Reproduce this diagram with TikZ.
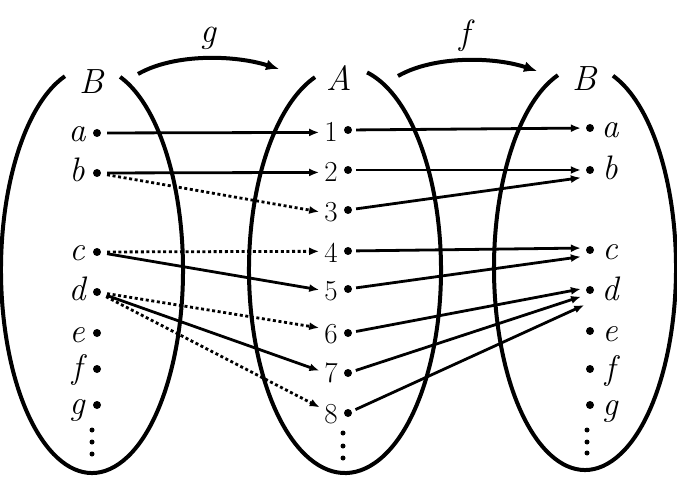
\documentclass[tikz,border=0pt]{standalone}
\usepackage{fontspec}
\usetikzlibrary{arrows.meta}
\begin{document}
\begin{tikzpicture}[x=1pt,y=-1pt,
 ell/.style={line width=4pt},
 pt/.style={circle,fill=black,inner sep=0pt,minimum size=8pt},
 vd/.style={circle,fill=black,inner sep=0pt,minimum size=5pt},
 lbl/.style={font=\fontsize{34}{36}\selectfont\itshape,inner sep=0pt,anchor=base},
 num/.style={font=\fontsize{29}{31}\selectfont,inner sep=0pt,anchor=base},
 setlbl/.style={font=\fontsize{35}{37}\selectfont\itshape,inner sep=0pt,anchor=base},
 gmap/.style={line width=2.8pt,-{Latex[length=10pt,width=8pt]},shorten <=6pt,shorten >=5pt},
 gmapd/.style={gmap,dash pattern=on 3pt off 2.6pt},
 fmap/.style={line width=2.8pt,-{Latex[length=10pt,width=8pt]},shorten <=4pt,shorten >=5pt},
 big/.style={line width=4pt,-{Latex[length=13pt,width=11pt]}}
]
\useasboundingbox (0,0) rectangle (677,494);

% open ellipses
\draw[ell] ([shift={(-107.3:91 and 203)}]92,270) arc[start angle=-107.3,end angle=-432,x radius=91,y radius=203];
\draw[ell] ([shift={(-108.2:96 and 203)}]345,270) arc[start angle=-108.2,end angle=-436.7,x radius=96,y radius=203];
\draw[ell] ([shift={(-107.3:91 and 202)}]585,268) arc[start angle=-107.3,end angle=-432.1,x radius=91,y radius=202];

% set labels
\node[setlbl] (B1) at (92,94) {B};
\node[setlbl] (A) at (339,91) {A};
\node[setlbl] (B2) at (585,91) {B};

% left set
\foreach \n/\y in {a/133,b/173,c/252,d/292,e/333,f/369,g/405} {
  \node[pt] (L\n) at (97,\y) {};
  \node[lbl] (Lt\n) at (77,\y+9) {\n};
}
\node[vd] (Lv1) at (92,430) {};
\node[vd] (Lv2) at (92,442) {};
\node[vd] (Lv3) at (92,454) {};

% middle set
\foreach \n/\y in {1/142,2/182,3/222,4/263,5/300,6/343,7/382,8/423} {
  \node[num] (M\n) at (331,\y) {\n};
}
\foreach \n/\y in {1/130,2/170,3/210,4/251,5/289,6/333,7/373,8/413} {
  \node[pt] (D\n) at (348,\y) {};
}
\node[vd] (Mv1) at (343,433) {};
\node[vd] (Mv2) at (343,446) {};
\node[vd] (Mv3) at (343,458) {};

% right set
\foreach \n/\y in {a/128,b/170,c/250,d/290,e/331,f/369,g/405} {
  \node[pt] (R\n) at (590,\y) {};
  \node[lbl] (Rt\n) at (610,\y+10) {\n};
}
\node[vd] (Rv1) at (587,430) {};
\node[vd] (Rv2) at (587,442) {};
\node[vd] (Rv3) at (587,453) {};

% g arrows
\draw[gmap] (La) -- (M1.west);
\draw[gmap] (Lb) -- (M2.west);
\draw[gmapd] (Lb) -- (M3.west);
\draw[gmapd] (Lc) -- ([yshift=2pt]M4.west);
\draw[gmap] (Lc) -- (M5.west);
\draw[gmapd] (Ld) -- ([yshift=5pt]M6.west);
\draw[gmap] (Ld) -- (M7.west);
\draw[gmapd] (Ld) -- ([yshift=4pt]M8.west);

% f arrows
\draw[fmap] (D1) -- (Ra);
\draw[fmap] (D2) -- (Rb);
\draw[fmap] (D3) -- ([yshift=-7pt]Rb.west);
\draw[fmap] (D4) -- ([yshift=2pt]Rc.west);
\draw[fmap] (D5) -- ([yshift=-6pt]Rc.west);
\draw[fmap] (D6) -- ([yshift=2pt]Rd.west);
\draw[fmap] (D7) -- ([yshift=-5pt]Rd.west);
\draw[fmap] (D8) -- ([xshift=3pt,yshift=-13pt]Rd.west);

% composition arrows
\coordinate (gs) at (138,74);
\coordinate (ge) at (279,69);
\draw[big] (gs) .. controls (175,53) and (235,55) .. (ge);
\node[setlbl] (gl) at (208,43) {g};
\coordinate (fs) at (398,76);
\coordinate (fe) at (537,71);
\draw[big] (fs) .. controls (435,55) and (495,57) .. (fe);
\node[setlbl] (fl) at (465,45) {f};
\end{tikzpicture}
\end{document}
